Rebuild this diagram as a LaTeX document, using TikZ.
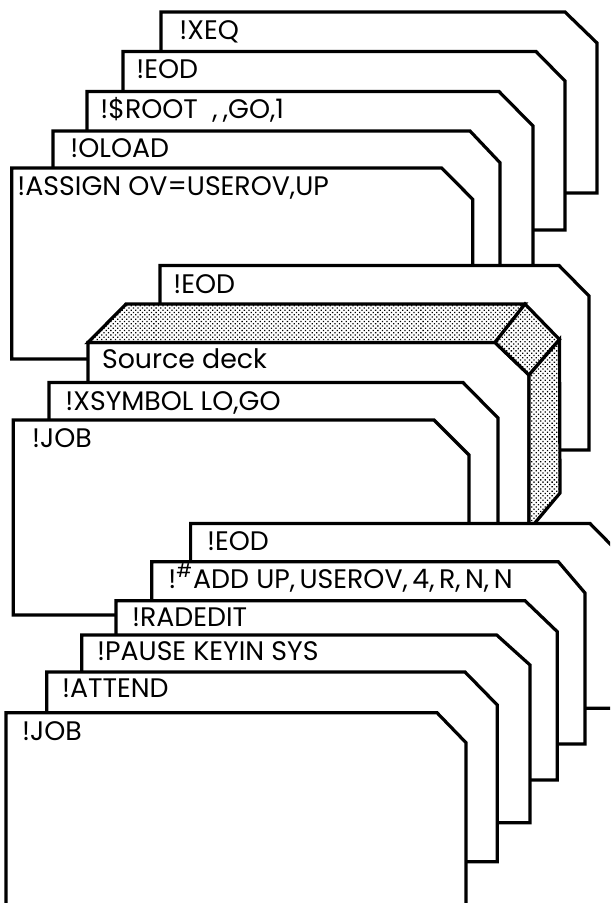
\documentclass[tikz,border=0pt]{standalone}
\usepackage{fontspec}
\setmainfont{Poppins}
\usetikzlibrary{patterns.meta}

\begin{document}
\begin{tikzpicture}
	[
	x=0.5pt, y=-0.5pt,
	card/.style={
		draw,
		fill=white,
		line width=1.6pt
	},
	deck side/.style={
		draw,
		line width=1.6pt,
		preaction={fill=white},
		pattern={Dots[distance=1.6pt, radius=0.45pt, angle=45]}
	},
	cmd/.style={
		anchor=base west,
		inner sep=0pt,
		font=\fontsize{13.4}{16}\selectfont
	}
	]
	
	\useasboundingbox (0,0) rectangle (610,903);
	\clip (0,0) rectangle (610,903);
	
	% Overlay deck
	\filldraw[card] (161,193) -- (161,12) -- (565,12) -- (597,43) -- (597,193) -- cycle;
	\filldraw[card] (123,230) -- (123,51.5) -- (536,51.5) -- (565,81) -- (565,230) -- cycle;
	\filldraw[card] (87,280) -- (87,91.5) -- (499,91.5) -- (533,126) -- (533,280) -- cycle;
	\filldraw[card] (53,280) -- (53,131) -- (470,131) -- (500,162.7) -- (500,280) -- cycle;
	\filldraw[card] (11.7,359) -- (11.7,168) -- (441.7,168) -- (472.7,199.3) -- (472.7,359) -- cycle;
	
	\node[cmd] (xeq) at (179,40) {!XEQ};
	\node[cmd] (eod_top) at (136,79) {!EOD};
	\node[cmd] (root) at (100,119) {!\$ROOT\ \ ,\kern0.2em,GO,1};
	\node[cmd] (oload) at (70,158) {!OLOAD};
	\node[cmd] (assign) at (17,196) {!ASSIGN OV=USEROV,UP};
	
	% Assembly deck
	\filldraw[card] (160,450) -- (160,265.5) -- (559,265.5) -- (589,296) -- (589,450) -- cycle;
	\node[cmd] (eod_mid) at (173,293) {!EOD};
	
	\filldraw[card] (88,530) -- (88,342.5) -- (495,342.5) -- (529,375) -- (529,530) -- cycle;
	\draw[deck side] (88,342.5) -- (126,304) -- (525,304) -- (495,342.5) -- cycle;
	\draw[deck side] (495,342.5) -- (525,304) -- (559.5,339.5) -- (529,375) -- cycle;
	\draw[deck side] (529,375) -- (559.5,339.5) -- (560,493) -- (529,530) -- cycle;
	\node[cmd] (source) at (101.7,368) {Source deck};
	
	\filldraw[card] (49,560) -- (49,382.5) -- (463,382.5) -- (498,418) -- (498,560) -- cycle;
	\filldraw[card] (13.3,615) -- (13.3,420) -- (434,420) -- (469,455) -- (469,615) -- cycle;
	
	\node[cmd] (xsymbol) at (65,410) {!XSYMBOL LO,GO};
	\node[cmd] (job_mid) at (31.7,447) {!JOB};
	
	% Update deck
	\filldraw[card] (190.6,708.3) -- (190.6,523.5) -- (590,523.5) -- (621,555) -- (621,708.3) -- cycle;
	\filldraw[card] (151.7,744) -- (151.7,561.7) -- (558.3,561.7) -- (585,593) -- (585,744) -- cycle;
	\filldraw[card] (116,780) -- (116,600.7) -- (525,600.7) -- (557.3,631.7) -- (557.3,780) -- cycle;
	\filldraw[card] (81.7,822.7) -- (81.7,635) -- (496.7,635) -- (530,665) -- (530,822.7) -- cycle;
	\filldraw[card] (46.7,861.7) -- (46.7,672) -- (465,672) -- (497.3,705) -- (497.3,861.7) -- cycle;
	\filldraw[card] (6,915) -- (6,712.7) -- (437,712.7) -- (466,742.7) -- (466,915) -- cycle;
	
	\node[cmd] (eod_low) at (206.7,550) {!EOD};
	\node[cmd] (add) at (168,588) {!\textsuperscript{\#}ADD UP,\,USEROV,\,4,\,R,\,N,\,N};
	\node[cmd] (radedit) at (131.7,626) {!RADEDIT};
	\node[cmd] (pause) at (96.7,660) {!PAUSE KEYIN SYS};
	\node[cmd] (attend) at (61.7,697) {!ATTEND};
	\node[cmd] (job_low) at (21.7,740) {!JOB};
	
\end{tikzpicture}
\end{document}
